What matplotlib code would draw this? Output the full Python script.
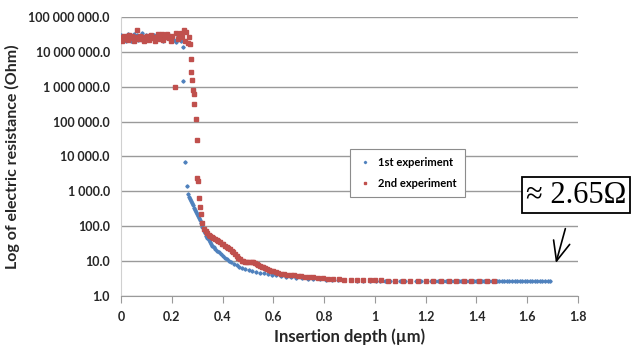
import matplotlib
matplotlib.use('Agg')
import matplotlib.pyplot as plt
from matplotlib.ticker import FuncFormatter, FixedLocator, NullLocator

# 1st experiment: insertion depth (um) and resistance (Ohm)
exp1_depth = [
    0.000, 0.004, 0.008, 0.013, 0.018, 0.022, 0.027, 0.031, 0.036, 0.040,
    0.045, 0.050, 0.054, 0.059, 0.063, 0.068, 0.072, 0.077, 0.082, 0.086,
    0.091, 0.095, 0.100, 0.105, 0.110, 0.116, 0.122, 0.128, 0.134, 0.140,
    0.147, 0.153, 0.160, 0.167, 0.174, 0.181, 0.188, 0.195, 0.202, 0.209,
    0.216, 0.223, 0.230, 0.237, 0.243,
    0.244, 0.252, 0.259, 0.265, 0.268, 0.272, 0.276, 0.280, 0.284, 0.288,
    0.292, 0.296, 0.300, 0.304, 0.308, 0.312, 0.316, 0.320, 0.325, 0.330,
    0.335, 0.340, 0.345, 0.350, 0.355, 0.360, 0.366, 0.372, 0.378, 0.385,
    0.392, 0.400, 0.408, 0.416, 0.425, 0.434, 0.444, 0.455, 0.466, 0.478,
    0.490, 0.503, 0.517, 0.531, 0.546, 0.562, 0.578, 0.595, 0.612, 0.630,
    0.650, 0.670, 0.690, 0.712, 0.735, 0.758, 0.782, 0.806, 0.830, 0.855,
    0.880, 0.905, 0.930, 0.955, 0.980, 1.005,
    1.02, 1.04, 1.06, 1.08, 1.10, 1.12, 1.14, 1.16, 1.18, 1.20,
    1.22, 1.235, 1.25, 1.26, 1.27, 1.28, 1.29, 1.30, 1.31, 1.32,
    1.33, 1.34, 1.35, 1.36, 1.37, 1.38, 1.39, 1.40, 1.41, 1.42,
    1.43, 1.44, 1.45, 1.46, 1.47, 1.48, 1.49, 1.50, 1.51, 1.52,
    1.53, 1.54, 1.55, 1.56, 1.57, 1.58, 1.59, 1.60, 1.61, 1.62,
    1.63, 1.64, 1.65, 1.66, 1.67, 1.68, 1.69,
]
exp1_ohm = [
    3.0e7, 2.2e7, 2.6e7, 2.9e7, 2.1e7, 2.5e7, 3.2e7, 2.4e7, 2.7e7, 2.0e7,
    2.8e7, 3.3e7, 2.3e7, 2.6e7, 3.1e7, 2.2e7, 2.9e7, 2.5e7, 3.4e7, 2.1e7,
    2.7e7, 2.4e7, 3.0e7, 2.6e7, 2.3e7, 2.8e7, 2.5e7, 3.1e7, 2.2e7, 2.6e7,
    2.9e7, 2.4e7, 2.7e7, 2.1e7, 2.8e7, 2.5e7, 3.0e7, 2.3e7, 2.6e7, 2.2e7,
    1.9e7, 2.8e7, 2.4e7, 2.0e7, 1.4e7,
    1.5e6, 6.8e3, 1.4e3, 820, 700, 600, 520, 460, 400, 340,
    300, 260, 230, 200, 175, 150, 120, 95, 75, 62,
    52, 45, 40, 36, 32, 28, 25, 22, 20, 18,
    16, 14, 12.5, 11.2, 10.0, 9.2, 8.4, 7.6, 7.0, 6.5,
    6.0, 5.6, 5.3, 5.0, 4.7, 4.5, 4.3, 4.1, 3.9, 3.7,
    3.55, 3.4, 3.3, 3.2, 3.1, 3.05, 3.0, 2.95, 2.9, 2.85,
    2.82, 2.80, 2.78, 2.76, 2.74, 2.72,
    2.71, 2.70, 2.70, 2.69, 2.69, 2.68, 2.68, 2.68, 2.67, 2.67,
    2.67, 2.67, 2.66, 2.66, 2.66, 2.66, 2.66, 2.66, 2.65, 2.65,
    2.65, 2.65, 2.65, 2.65, 2.65, 2.65, 2.65, 2.65, 2.65, 2.65,
    2.65, 2.65, 2.65, 2.65, 2.65, 2.65, 2.65, 2.65, 2.65, 2.65,
    2.65, 2.65, 2.65, 2.65, 2.65, 2.65, 2.65, 2.65, 2.65, 2.65,
    2.65, 2.65, 2.65, 2.65, 2.65, 2.65, 2.65,
]

# 2nd experiment
exp2_depth = [
    0.000, 0.005, 0.010, 0.016, 0.021, 0.027, 0.033, 0.038, 0.044, 0.050,
    0.056, 0.062, 0.068, 0.074, 0.080, 0.086, 0.092, 0.098, 0.104, 0.111,
    0.118, 0.125, 0.132, 0.139, 0.146, 0.153, 0.160, 0.167, 0.174, 0.181,
    0.188, 0.195, 0.202, 0.213, 0.218, 0.224, 0.230, 0.236, 0.242, 0.247,
    0.252, 0.257, 0.262, 0.266, 0.270,
    0.275, 0.277, 0.280, 0.282, 0.286, 0.289, 0.294, 0.298, 0.301, 0.304,
    0.309, 0.311, 0.315, 0.320, 0.327,
    0.333, 0.340, 0.346, 0.352, 0.358, 0.364, 0.370, 0.377, 0.383, 0.390,
    0.396, 0.403, 0.409, 0.416, 0.423, 0.430, 0.436, 0.442, 0.449, 0.456,
    0.462, 0.469, 0.476, 0.482, 0.490, 0.498, 0.506, 0.514, 0.521, 0.528,
    0.534, 0.541, 0.547, 0.554, 0.561, 0.568, 0.576, 0.584, 0.592, 0.600,
    0.610, 0.620, 0.630, 0.642, 0.655, 0.668, 0.682, 0.696, 0.710, 0.725,
    0.740, 0.758, 0.776, 0.795, 0.815, 0.835, 0.858, 0.880, 0.905, 0.930,
    0.955, 0.980, 1.000, 1.025, 1.050, 1.080, 1.110, 1.140, 1.170, 1.200,
    1.230, 1.260, 1.290, 1.320, 1.350, 1.380, 1.410, 1.440, 1.470,
]
exp2_ohm = [
    2.6e7, 2.0e7, 2.9e7, 2.3e7, 2.7e7, 2.2e7, 3.1e7, 2.5e7, 2.8e7, 2.1e7,
    2.6e7, 4.2e7, 2.4e7, 2.9e7, 2.3e7, 2.7e7, 2.0e7, 2.6e7, 2.8e7, 2.2e7,
    3.0e7, 2.5e7, 2.1e7, 2.7e7, 3.3e7, 2.4e7, 3.2e7, 2.2e7, 2.6e7, 3.3e7,
    2.5e7, 2.1e7, 2.9e7, 1.0e6, 3.4e7, 2.3e7, 2.8e7, 3.5e7, 2.6e7, 4.1e7,
    2.1e7, 3.6e7, 1.8e7, 2.7e7, 1.7e7,
    6.2e6, 2.6e6, 1.6e6, 7.9e5, 6.0e5, 3.3e5, 1.2e5, 2.9e4, 2.4e3, 2.0e3,
    660, 350, 220, 126, 82,
    72, 64, 58, 54, 50, 47, 44, 41, 38, 35,
    32, 30, 28, 26, 24, 22, 20, 18, 16, 14,
    12.5, 11.2, 10.3, 9.8, 9.6, 9.5, 9.5, 9.4, 9.2, 8.6,
    8.1, 7.7, 7.3, 6.9, 6.6, 6.3, 6.0, 5.6, 5.3, 5.1,
    4.8, 4.6, 4.4, 4.2, 4.1, 4.0, 3.9, 3.8, 3.7, 3.6,
    3.5, 3.4, 3.3, 3.2, 3.1, 3.05, 3.0, 2.95, 2.9, 2.87,
    2.85, 2.83, 2.82, 2.80, 2.78, 2.77, 2.76, 2.75, 2.74, 2.74,
    2.73, 2.73, 2.72, 2.72, 2.71, 2.71, 2.70, 2.70, 2.70,
]

y_ticks = [1, 10, 100, 1e3, 1e4, 1e5, 1e6, 1e7, 1e8]
x_ticks = [0, 0.2, 0.4, 0.6, 0.8, 1.0, 1.2, 1.4, 1.6, 1.8]

blue = '#4F81BD'
red = '#C0504D'
grid_col = '#9A9A9A'

plt.rcParams['font.family'] = ['Lato', 'DejaVu Sans']

fig = plt.figure(figsize=(6.32, 3.46), dpi=100)
ax = fig.add_axes([0.1915, 0.1445, 0.7231, 0.8064])

ax.plot(exp1_depth, exp1_ohm, ls='', marker='D', ms=1.7, color=blue,
        mec=blue, label='1st experiment', zorder=3)
ax.plot(exp2_depth, exp2_ohm, ls='', marker='s', ms=2.3, color=red,
        mec=red, label='2nd experiment', zorder=4)

ax.set_yscale('log')
ax.set_ylim(1, 1e8)
ax.set_xlim(0, 1.8)
ax.yaxis.set_major_locator(FixedLocator(y_ticks))
ax.yaxis.set_minor_locator(NullLocator())
ax.yaxis.set_major_formatter(
    FuncFormatter(lambda v, p: f"{v:,.1f}".replace(',', ' ')))
ax.set_xticks(x_ticks)
ax.xaxis.set_major_formatter(FuncFormatter(lambda v, p: f"{v:g}"))

ax.grid(axis='y', color=grid_col, lw=1.0, zorder=0)
ax.set_axisbelow(True)
for s in ['top', 'right']:
    ax.spines[s].set_visible(False)
ax.spines['left'].set_color('#D0D0D0')
ax.spines['bottom'].set_color(grid_col)
ax.tick_params(axis='y', length=0, pad=8, labelsize=9)
ax.tick_params(axis='x', length=5, direction='out', color=grid_col,
               pad=6, labelsize=9)
for lab in ax.get_xticklabels() + ax.get_yticklabels():
    lab.set_fontweight('bold')
    lab.set_color('#262626')

ax.set_ylabel('Log of electric resistance (Ohm)', fontsize=11.5,
              fontweight='bold', color='#262626', labelpad=6)
ax.set_xlabel('Insertion depth (µm)', fontsize=12, fontweight='bold',
              color='#262626', labelpad=4)

leg = ax.legend(loc='upper left', bbox_to_anchor=(0.488, 0.546),
                fancybox=False, edgecolor='#8C8C8C', framealpha=1,
                prop={'weight': 'bold', 'size': 8}, markerscale=0.7,
                handletextpad=0.5, handlelength=1.4, borderpad=0.7,
                labelspacing=0.9)
leg.get_frame().set_linewidth(0.8)

fig.text(0.832, 0.436, '≈ 2.65Ω', fontsize=22, family='Liberation Serif',
         ha='left', va='center',
         bbox=dict(boxstyle='square,pad=0.12', fc='white', ec='black', lw=1.3))
ax.annotate('', xy=(1.71, 7.4), xytext=(1.753, 102),
            arrowprops=dict(arrowstyle='->,head_length=1.4,head_width=0.6',
                            color='black', lw=1.2))

fig.savefig('out.png', dpi=100)
